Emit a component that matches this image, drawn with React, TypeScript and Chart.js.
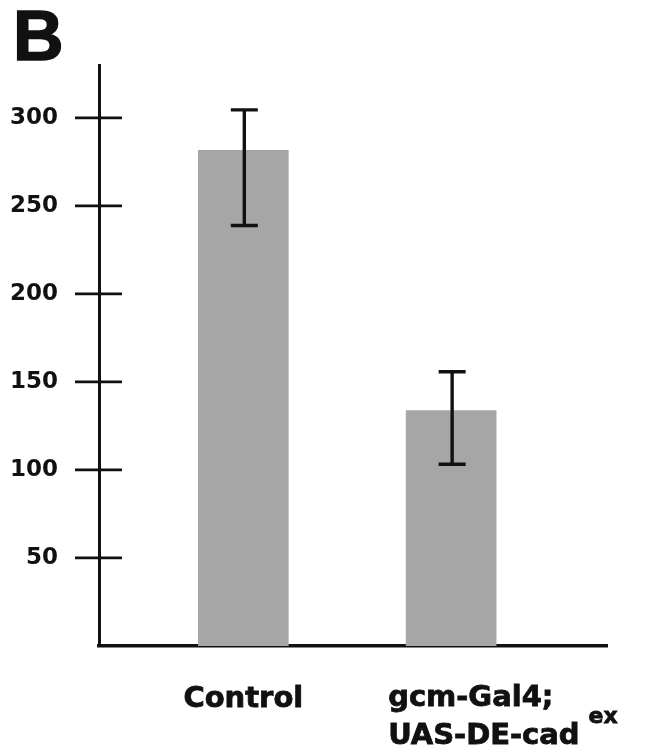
import React, { useEffect, useRef } from 'react';
import { Chart, registerables } from 'chart.js';

Chart.register(...registerables);

// ---- data ----
const categories = ['Control', 'gcm-Gal4; UAS-DE-cad ex'];
const labelLines = [['Control'], ['gcm-Gal4;', 'UAS-DE-cad']];
const labelSuperscripts = ['', 'ex'];
const xPositions = [1, 2.44];
const barValues = [281.5, 133.7];
const errHigh = [304.5, 155.8];
const errLow = [238.8, 103.2];
const yTicks = [50, 100, 150, 200, 250, 300];
const panelLetter = 'B';

const INK = '#111111';
const FONT = 'DejaVu Sans';

const decorPlugin = {
  id: 'decor',
  afterDraw(chart: any) {
    const ctx = chart.ctx as CanvasRenderingContext2D;
    const xs = chart.scales.x;
    const ys = chart.scales.y;
    const axisX = chart.chartArea.left;
    ctx.save();
    ctx.strokeStyle = INK;
    ctx.lineCap = 'butt';

    // cross tick marks on the y axis
    ctx.lineWidth = 2.8;
    ys.ticks.forEach((t: any) => {
      const py = ys.getPixelForValue(t.value);
      ctx.beginPath();
      ctx.moveTo(axisX - 24, py);
      ctx.lineTo(axisX + 23, py);
      ctx.stroke();
    });

    // error bars
    ctx.lineWidth = 3.4;
    xPositions.forEach((xv, i) => {
      const px = xs.getPixelForValue(xv) + 1;
      const top = ys.getPixelForValue(errHigh[i]);
      const bot = ys.getPixelForValue(errLow[i]);
      ctx.beginPath();
      ctx.moveTo(px, top);
      ctx.lineTo(px, bot);
      ctx.moveTo(px - 13.5, top);
      ctx.lineTo(px + 13.5, top);
      ctx.moveTo(px - 13.5, bot);
      ctx.lineTo(px + 13.5, bot);
      ctx.stroke();
    });

    // category labels
    ctx.fillStyle = INK;
    ctx.strokeStyle = INK;
    ctx.lineWidth = 0.8;
    ctx.textBaseline = 'alphabetic';
    const mainFont = `bold 29px "${FONT}"`;
    const supFont = `bold 22px "${FONT}"`;
    const draw = (s: string, x: number, y: number) => {
      ctx.fillText(s, x, y);
      ctx.strokeText(s, x, y);
    };
    xPositions.forEach((xv, i) => {
      const px = xs.getPixelForValue(xv);
      const lines = labelLines[i];
      ctx.font = mainFont;
      if (lines.length === 1) {
        ctx.textAlign = 'center';
        draw(lines[0], px, 707);
      } else {
        ctx.textAlign = 'left';
        const left = px - 63;
        lines.forEach((ln, j) => {
          ctx.font = mainFont;
          draw(ln, left, 706 + j * 38);
        });
        const sup = labelSuperscripts[i];
        if (sup) {
          ctx.font = mainFont;
          const w = ctx.measureText(lines[lines.length - 1]).width;
          ctx.font = supFont;
          draw(sup, left + w + 9, 706 + (lines.length - 1) * 38 - 21);
        }
      }
    });

    // panel letter
    ctx.font = `bold 70px "Liberation Sans"`;
    ctx.textAlign = 'left';
    ctx.lineWidth = 1.5;
    draw(panelLetter, 13, 60);
    ctx.restore();
  },
};

export default function App() {
  const ref = useRef<HTMLCanvasElement | null>(null);

  useEffect(() => {
    if (!ref.current) return;
    const chart = new Chart(ref.current, {
      type: 'bar',
      data: {
        labels: categories,
        datasets: [
          {
            data: xPositions.map((x, i) => ({ x, y: barValues[i] })),
            backgroundColor: '#a6a6a6',
            borderWidth: 0,
            barThickness: 90,
          },
        ],
      },
      options: {
        responsive: false,
        animation: false,
        events: [],
        layout: { padding: { top: 65, bottom: 108, right: 56, left: 0 } },
        plugins: {
          legend: { display: false },
          tooltip: { enabled: false },
          title: { display: false },
        },
        scales: {
          x: {
            type: 'linear',
            min: 0,
            max: 3.52,
            offset: false,
            z: 1,
            grid: { display: false, drawTicks: false },
            border: { display: true, color: INK, width: 3.5 },
            ticks: { display: false },
            afterFit: (s: any) => {
              s.height = 0;
            },
          },
          y: {
            min: 0,
            max: 330,
            z: 1,
            grid: { display: false, drawTicks: false },
            border: { display: true, color: INK, width: 3 },
            afterBuildTicks: (s: any) => {
              s.ticks = yTicks.map((v) => ({ value: v }));
            },
            ticks: {
              padding: 41,
              color: INK,
              font: { family: FONT, size: 23, weight: 'bold' },
            },
            afterFit: (s: any) => {
              s.width = 99;
            },
          },
        },
      } as any,
      plugins: [decorPlugin],
    });
    return () => chart.destroy();
  }, []);

  return (
    <div style={{ position: 'absolute', left: 0, top: 0, width: 663, height: 754, background: '#fff' }}>
      <canvas ref={ref} width={663} height={754} style={{ display: 'block' }} />
    </div>
  );
}
